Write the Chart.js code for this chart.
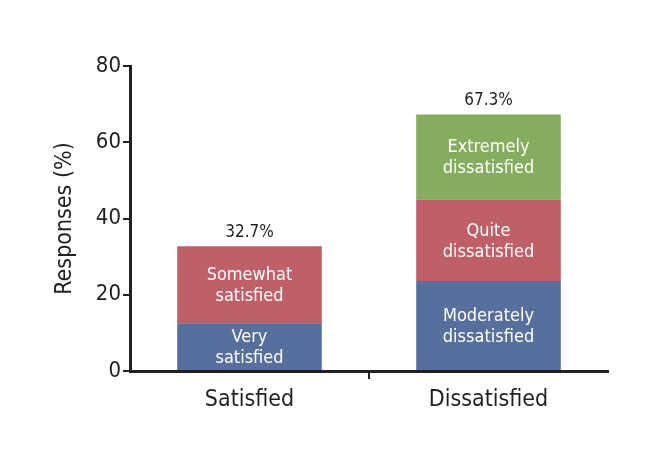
<!DOCTYPE html>
<html lang="en">
<head>
  <meta charset="UTF-8" />
  <title>Responses</title>
  <script src="https://cdn.jsdelivr.net/npm/chart.js"></script>
  <style>
    * { margin: 0; padding: 0; box-sizing: border-box; }
    body { background: #fff; width: 663px; height: 454px; overflow: hidden; }
    #wrap { width: 663px; height: 454px; position: relative; }
  </style>
</head>
<body>
  <div id="wrap"><canvas id="chart"></canvas></div>
  <script>
    const categories = ["Satisfied", "Dissatisfied"];
    const lowValues = [12.5, 23.6];
    const midValues = [20.2, 21.3];
    const topValues = [null, 22.4];
    const totals = ["32.7%", "67.3%"];
    const lowLabels = [["Very", "satisfied"], ["Moderately", "dissatisfied"]];
    const midLabels = [["Somewhat", "satisfied"], ["Quite", "dissatisfied"]];
    const topLabels = [null, ["Extremely", "dissatisfied"]];
    const yTicks = [0, 20, 40, 60, 80];

    const FONT = "'Liberation Sans Narrow', 'DejaVu Sans Condensed', 'Roboto Condensed', sans-serif";
    const INK = "#231f20";

    // text inside each segment + totals on top
    const barText = {
      id: "barText",
      afterDatasetsDraw(chart) {
        const ctx = chart.ctx;
        const segLabels = [lowLabels, midLabels, topLabels];
        ctx.save();
        ctx.textAlign = "center";
        ctx.textBaseline = "middle";
        ctx.fillStyle = "#fff";
        ctx.font = "18px " + FONT;
        chart.data.datasets.forEach((ds, di) => {
          chart.getDatasetMeta(di).data.forEach((bar, i) => {
            const lines = segLabels[di][i];
            if (!lines || ds.data[i] == null) return;
            const mid = (bar.y + bar.base) / 2;
            const lh = 21;
            lines.forEach((t, k) => {
              ctx.fillText(t, bar.x, mid + (k - (lines.length - 1) / 2) * lh + 1);
            });
          });
        });
        // totals
        ctx.fillStyle = INK;
        ctx.font = "17px " + FONT;
        categories.forEach((c, i) => {
          let top = Infinity, x = 0;
          chart.data.datasets.forEach((ds, di) => {
            if (ds.data[i] == null) return;
            const bar = chart.getDatasetMeta(di).data[i];
            top = Math.min(top, bar.y);
            x = bar.x;
          });
          ctx.fillText(totals[i], x, top - 14);
        });
        ctx.restore();
      }
    };

    new Chart(document.getElementById("chart"), {
      type: "bar",
      data: {
        labels: categories,
        datasets: [
          { data: lowValues, backgroundColor: "#576f9c" },
          { data: midValues, backgroundColor: "#bf6068" },
          { data: topValues, backgroundColor: "#85ac5f" }
        ]
      },
      options: {
        responsive: true,
        maintainAspectRatio: false,
        animation: false,
        barPercentage: 0.605,
        categoryPercentage: 1,
        layout: { padding: { left: 51, right: 55, top: 66, bottom: 22 } },
        plugins: { legend: { display: false }, tooltip: { enabled: false } },
        scales: {
          x: {
            stacked: true,
            afterFit: s => { s.height = 61; },
            border: { display: true, color: INK, width: 3 },
            grid: {
              offset: true,
              drawOnChartArea: false,
              drawTicks: true,
              tickLength: 8,
              lineWidth: 2,
              color: c => c.index === 1 ? INK : "rgba(0,0,0,0)"
            },
            ticks: { color: INK, font: { family: FONT, size: 23 }, padding: 7 }
          },
          y: {
            stacked: true,
            min: 0,
            max: 80,
            afterFit: s => { s.width = 79; },
            afterBuildTicks: s => { s.ticks = yTicks.map(v => ({ value: v })); },
            border: { display: true, color: INK, width: 3 },
            grid: {
              drawOnChartArea: false,
              drawTicks: true,
              tickLength: 7,
              lineWidth: 2,
              color: INK
            },
            ticks: { color: INK, font: { family: FONT, size: 22 }, padding: 2 },
            title: {
              display: true,
              text: "Responses (%)",
              color: INK,
              font: { family: FONT, size: 23 },
              padding: 0
            }
          }
        }
      },
      plugins: [barText]
    });
  </script>
</body>
</html>
